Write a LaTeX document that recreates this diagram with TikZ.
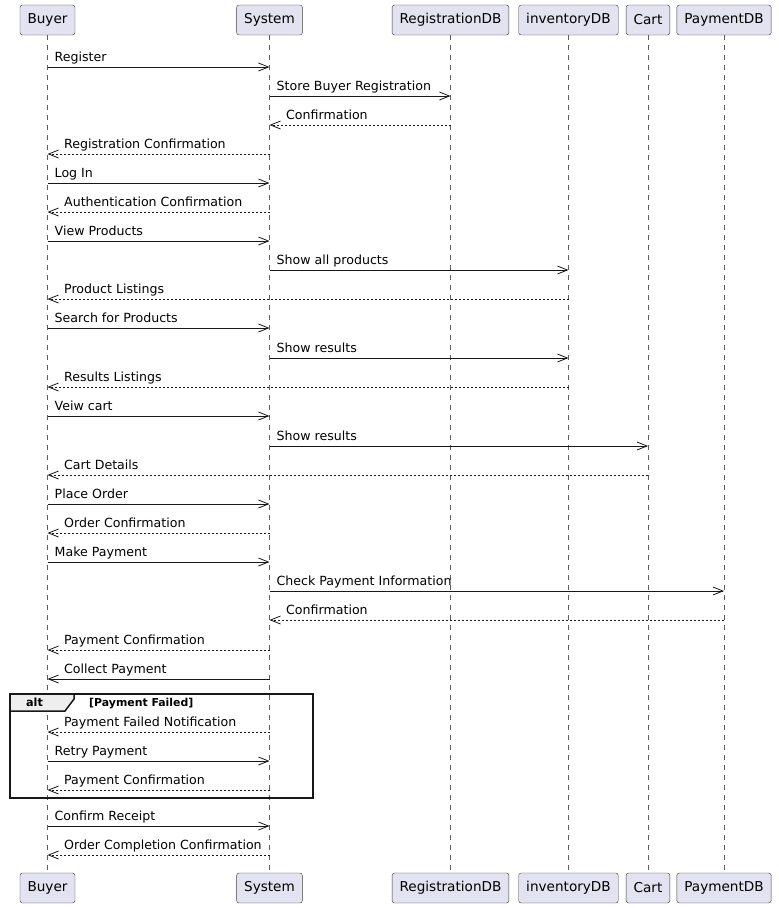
\documentclass[tikz,border=0pt]{standalone}
\usepackage{fontspec}
\setmainfont{DejaVu Sans}
\usepackage{xcolor}
\usetikzlibrary{arrows.meta}
\usetikzlibrary{positioning}

\definecolor{partfill}{HTML}{E2E2F0}
\definecolor{linecol}{HTML}{181818}
\definecolor{tabfill}{HTML}{EEEEEE}

\tikzset{
  participant/.style={draw=linecol!85, fill=partfill, rounded corners=2.5pt, minimum height=30pt,
    inner xsep=7.5pt, inner ysep=0pt, font=\fontsize{13.6}{15}\selectfont},
  lifeline/.style={draw=linecol!70, line width=0.5pt, dash pattern=on 5pt off 5pt},
  call/.style={draw=linecol, line width=0.8pt, -{Straight Barb[length=10pt,width=8pt]}},
  reply/.style={call, dash pattern=on 2pt off 2pt},
  msglabel/.style={anchor=base west, inner sep=0pt, font=\fontsize{12.6}{14}\selectfont}
}

\newcommand{\callmsg}[5]{
  \coordinate (#1a) at (#2 |- 0,#4);
  \coordinate (#1b) at (#3 |- 0,#4);
  \draw[call] (#1a) -- (#1b);
  \node[msglabel] (#1t) at ([xshift=7pt,yshift=5.5pt]#1a) {#5};
}
\newcommand{\replymsg}[6][reply]{
  \coordinate (#2a) at (#3 |- 0,#5);
  \coordinate (#2b) at (#4 |- 0,#5);
  \draw[#1] (#2a) -- (#2b);
  \node[msglabel] (#2t) at ([xshift=16.5pt,yshift=5.5pt]#2b) {#6};
}

\begin{document}
\begin{tikzpicture}[x=1pt,y=-1pt]
  \useasboundingbox (0,0) rectangle (779,908);

  \node[participant] (buyer) at (47.5,20) {Buyer};
  \node[participant] (system) at (269.5,20) {System};
  \node[participant] (regdb) at (450.5,20) {RegistrationDB};
  \node[participant] (invdb) at (568.5,20) {inventoryDB};
  \node[participant] (cart) at (648,20) {Cart};
  \node[participant] (paydb) at (724,20) {PaymentDB};

  \node[participant] (buyerB) at (47.5,888) {Buyer};
  \node[participant] (systemB) at (269.5,888) {System};
  \node[participant] (regdbB) at (450.5,888) {RegistrationDB};
  \node[participant] (invdbB) at (568.5,888) {inventoryDB};
  \node[participant] (cartB) at (648,888) {Cart};
  \node[participant] (paydbB) at (724,888) {PaymentDB};

  \foreach \p in {buyer,system,regdb,invdb,cart,paydb}
    \draw[lifeline] (\p.south) -- (\p B.north);

  \callmsg{reg}{buyer}{system}{67}{Register}
  \callmsg{store}{system}{regdb}{96}{Store Buyer Registration}
  \replymsg{confa}{regdb}{system}{125}{Confirmation}
  \replymsg{regconf}{system}{buyer}{154}{Registration Confirmation}
  \callmsg{login}{buyer}{system}{183}{Log In}
  \replymsg{auth}{system}{buyer}{212}{Authentication Confirmation}
  \callmsg{view}{buyer}{system}{241}{View Products}
  \callmsg{showall}{system}{invdb}{270}{Show all products}
  \replymsg{listings}{invdb}{buyer}{299}{Product Listings}
  \callmsg{search}{buyer}{system}{328}{Search for Products}
  \callmsg{showres}{system}{invdb}{358}{Show results}
  \replymsg{results}{invdb}{buyer}{387}{Results Listings}
  \callmsg{viewcart}{buyer}{system}{416}{Veiw cart}
  \callmsg{showcart}{system}{cart}{446}{Show results}
  \replymsg{cartdet}{cart}{buyer}{475}{Cart Details}
  \callmsg{order}{buyer}{system}{504}{Place Order}
  \replymsg{orderconf}{system}{buyer}{533}{Order Confirmation}
  \callmsg{pay}{buyer}{system}{562}{Make Payment}
  \callmsg{check}{system}{paydb}{591}{Check Payment Information}
  \replymsg{confb}{paydb}{system}{620}{Confirmation}
  \replymsg{payconf}{system}{buyer}{650}{Payment Confirmation}
  \replymsg[call]{collect}{system}{buyer}{679}{Collect Payment}

  \draw[linecol, line width=1.5pt] (10,694) rectangle (313,798);
  \draw[linecol, line width=1.5pt, fill=tabfill] (10,694) -- (74,694) -- (74,699) -- (65,711) -- (10,711) -- cycle;
  \node[font=\fontsize{11.2}{12}\bfseries, inner sep=0pt, anchor=base] (alttag) at (34.5,706.5) {alt};
  \node[font=\fontsize{10.9}{12}\bfseries, inner sep=0pt, anchor=base west] (altguard) at (89,706) {[Payment Failed]};

  \replymsg{failed}{system}{buyer}{732}{Payment Failed Notification}
  \callmsg{retry}{buyer}{system}{761}{Retry Payment}
  \replymsg{payconfb}{system}{buyer}{790}{Payment Confirmation}

  \callmsg{receipt}{buyer}{system}{826}{Confirm Receipt}
  \replymsg{done}{system}{buyer}{855}{Order Completion Confirmation}
\end{tikzpicture}
\end{document}
